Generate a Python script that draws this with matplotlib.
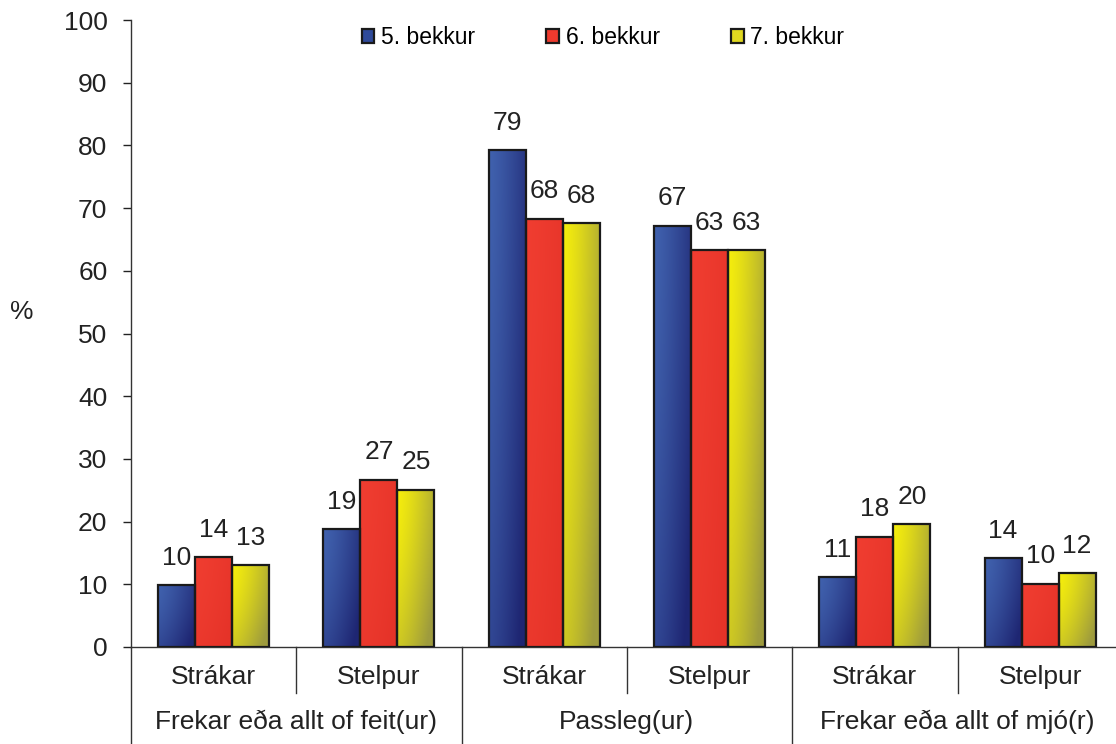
import numpy as np
import matplotlib
matplotlib.use("Agg")
import matplotlib.pyplot as plt
from matplotlib.patches import Patch

plt.rcParams["font.family"] = ["Liberation Sans", "DejaVu Sans"]

# Data
categories = ["Strákar", "Stelpur", "Strákar", "Stelpur", "Strákar", "Stelpur"]
groups = ["Frekar eða allt of feit(ur)", "Passleg(ur)", "Frekar eða allt of mjó(r)"]
series = ["5. bekkur", "6. bekkur", "7. bekkur"]
grade5 = [9.9, 18.8, 79.3, 67.2, 11.1, 14.2]
grade6 = [14.3, 26.7, 68.3, 63.3, 17.6, 10.1]
grade7 = [13.1, 25.1, 67.6, 63.3, 19.6, 11.8]
values = [grade5, grade6, grade7]

# (light, dark) colour pairs for the bar shading
shades = [
    ((0.25, 0.38, 0.68), (0.12, 0.15, 0.45)),
    ((0.94, 0.24, 0.19), (0.90, 0.20, 0.16)),
    ((0.96, 0.93, 0.05), (0.62, 0.61, 0.24)),
]
flat = ["#2f4a9a", "#ee3a2e", "#e0d820"]


def gradient(light, dark, nx=40, ny=60):
    tx = np.linspace(0, 1, nx)[None, :]
    ty = np.linspace(0, 1, ny)[:, None]  # 0 bottom, 1 top
    d = np.clip(0.75 * tx ** 1.3 + 0.45 * (1 - ty) ** 1.5, 0, 1)
    light = np.array(light)
    dark = np.array(dark)
    return light[None, None, :] * (1 - d[..., None]) + dark[None, None, :] * d[..., None]


fig = plt.figure(figsize=(11.16, 7.44), dpi=100)
ax = fig.add_axes([131 / 1116, 97 / 744, 6 * 165.3 / 1116, 627 / 744])

x = np.arange(len(categories))
width = 0.224
for i, vals in enumerate(values):
    bars = ax.bar(x + (i - 1) * width, vals, width, facecolor="none",
                  edgecolor="#1a1a1a", linewidth=1.6, zorder=3)
    img = gradient(*shades[i])
    for b in bars:
        x0, w, h = b.get_x(), b.get_width(), b.get_height()
        im = ax.imshow(img, extent=(x0, x0 + w, 0, h), origin="lower",
                       aspect="auto", zorder=2, interpolation="bilinear")
        im.set_clip_path(b)
    ax.bar_label(bars, labels=[f"{v:.0f}" for v in vals], padding=11,
                 fontsize=19, color="#222222")

ax.set_xlim(-0.5, len(categories) - 0.5)
ax.set_ylim(0, 100)
ax.set_yticks(np.arange(0, 101, 10))
ax.tick_params(axis="y", direction="out", length=6, width=1, pad=11,
               labelsize=19, colors="#222222")
ax.tick_params(axis="x", length=0, labelbottom=False)
for s in ["top", "right"]:
    ax.spines[s].set_visible(False)
for s in ["left", "bottom"]:
    ax.spines[s].set_color("#333333")
    ax.spines[s].set_linewidth(1)

trans = ax.get_xaxis_transform()
for xi, name in zip(x, categories):
    ax.text(xi, -0.048, name, transform=trans, ha="center", va="center",
            fontsize=19, color="#222222")
for g, name in enumerate(groups):
    ax.text(2 * g + 0.5, -0.12, name, transform=trans, ha="center", va="center",
            fontsize=19, color="#222222")

# separators between categories and groups
for sx in [0.5, 2.5, 4.5]:
    ax.plot([sx, sx], [0, -0.073], transform=trans, color="#333333",
            lw=1, clip_on=False)
for sx in [-0.5, 1.5, 3.5]:
    ax.plot([sx, sx], [0, -0.16], transform=trans, color="#333333",
            lw=1, clip_on=False)

fig.text(22 / 1116, 1 - 312 / 744, "%", ha="center", va="center",
         fontsize=19, color="#222222")

handles = [Patch(facecolor=c, edgecolor="#1a1a1a", linewidth=1.6) for c in flat]
ax.legend(handles, series, ncol=3, loc="center",
          bbox_to_anchor=(603 / 1116, 1 - 38 / 744), bbox_transform=fig.transFigure,
          frameon=False, fontsize=16.5, handlelength=0.55, handleheight=0.55,
          handletextpad=0.3, columnspacing=3.1)

fig.savefig("out.png", dpi=100)
